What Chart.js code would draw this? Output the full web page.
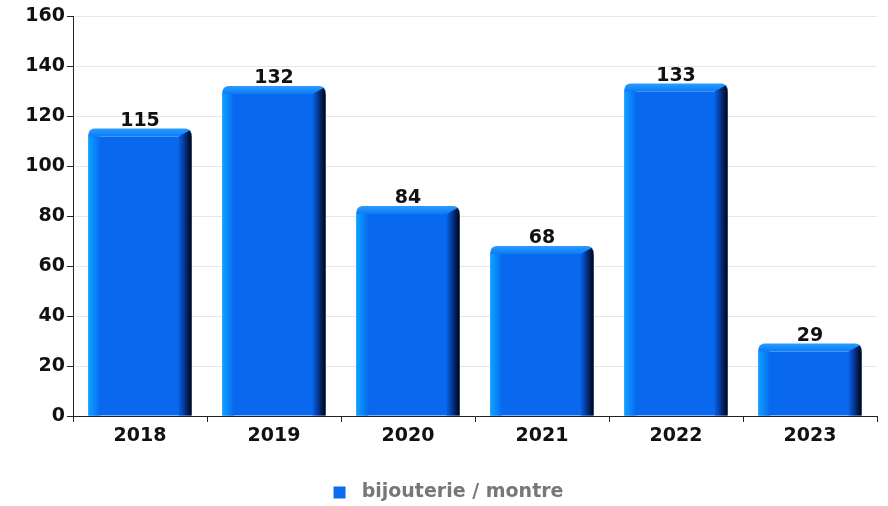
<!DOCTYPE html>
<html>
<head>
<meta charset="utf-8">
<script src="https://cdn.jsdelivr.net/npm/chart.js@4"></script>
<style>
  html, body { margin: 0; padding: 0; background: #fff; }
  #wrap { width: 888px; height: 506px; }
</style>
</head>
<body>
<div id="wrap"><canvas id="c" width="888" height="506"></canvas></div>
<script>
// bijouterie / montre par année
const years = ['2018', '2019', '2020', '2021', '2022', '2023'];
const counts = [115, 132, 84, 68, 133, 29];
const yTicks = [0, 20, 40, 60, 80, 100, 120, 140, 160];

const FONT = '"DejaVu Sans", sans-serif';
const SIZE = 19;

// dessine les barres en faux 3D à partir des éléments du graphique
const bar3d = {
  id: 'bar3d',
  afterDatasetsDraw(chart) {
    const ctx = chart.ctx;
    const meta = chart.getDatasetMeta(0);
    ctx.save();
    meta.data.forEach((bar, i) => {
      const { x, y, base, width } = bar.getProps(['x', 'y', 'base', 'width'], true);
      const x0 = x - width / 2, x1 = x + width / 2;
      const top = y, bev = 8, lw = 12, rw = 13, r = 6;

      // face principale
      ctx.fillStyle = '#0868ee';
      ctx.fillRect(x0, top + bev, width, base - top - bev);

      // côté gauche clair
      const gl = ctx.createLinearGradient(x0, 0, x0 + lw, 0);
      gl.addColorStop(0, '#0ca2ff');
      gl.addColorStop(0.5, '#0a86f8');
      gl.addColorStop(1, '#0868ee');
      ctx.fillStyle = gl;
      ctx.beginPath();
      ctx.moveTo(x0, top + r);
      ctx.lineTo(x0 + lw, top + bev);
      ctx.lineTo(x0 + lw, base);
      ctx.lineTo(x0, base);
      ctx.closePath();
      ctx.fill();

      // chapeau supérieur arrondi
      const gt = ctx.createLinearGradient(0, top, 0, top + bev);
      gt.addColorStop(0, '#2a9cff');
      gt.addColorStop(1, '#0b7af6');
      ctx.fillStyle = gt;
      ctx.beginPath();
      ctx.moveTo(x0, top + bev);
      ctx.lineTo(x0, top + r);
      ctx.arcTo(x0, top, x0 + r, top, r);
      ctx.lineTo(x1 - r, top);
      ctx.arcTo(x1, top, x1, top + r, r);
      ctx.lineTo(x1 - rw, top + bev);
      ctx.lineTo(x0 + lw, top + bev);
      ctx.closePath();
      ctx.fill();

      // côté droit sombre
      const gr = ctx.createLinearGradient(x1 - rw, 0, x1, 0);
      gr.addColorStop(0, '#0862e4');
      gr.addColorStop(0.4, '#053a9c');
      gr.addColorStop(0.75, '#021a48');
      gr.addColorStop(1, '#000610');
      ctx.fillStyle = gr;
      ctx.beginPath();
      ctx.moveTo(x1 - rw, top + bev);
      ctx.lineTo(x1 - 2, top + 2);
      ctx.lineTo(x1, top + r);
      ctx.lineTo(x1, base);
      ctx.lineTo(x1 - rw, base);
      ctx.closePath();
      ctx.fill();

      // valeur au-dessus
      ctx.fillStyle = '#111';
      ctx.font = 'bold ' + SIZE + 'px ' + FONT;
      ctx.textAlign = 'center';
      ctx.textBaseline = 'alphabetic';
      ctx.fillText(String(counts[i]), x, top - 3);
    });
    ctx.restore();
  }
};

// décale un peu la légende (droite / bas) comme dans l'original
const legendShift = {
  id: 'legendShift',
  afterLayout(chart) {
    const lg = chart.legend;
    lg.left += 10; lg.right += 10;
    lg.top += 8; lg.bottom += 8;
  }
};

new Chart(document.getElementById('c'), {
  type: 'bar',
  data: {
    labels: years,
    datasets: [{
      label: 'bijouterie / montre',
      data: counts,
      backgroundColor: 'rgba(0,0,0,0)',
      borderWidth: 0,
      categoryPercentage: 1,
      barPercentage: 0.77,
    }],
  },
  options: {
    responsive: false,
    animation: false,
    devicePixelRatio: 1,
    layout: { padding: { top: 16, right: 11, left: 0, bottom: 2 } },
    plugins: {
      legend: {
        position: 'bottom',
        labels: {
          boxWidth: 12,
          boxHeight: 12,
          padding: 10,
          color: '#777',
          font: { family: FONT, size: SIZE, weight: 'bold' },
          generateLabels: (chart) => [{
            text: ' ' + chart.data.datasets[0].label,
            fillStyle: '#0a6cf0',
            strokeStyle: '#0a6cf0',
            fontColor: '#777',
            lineWidth: 0,
            datasetIndex: 0,
          }],
        },
      },
      tooltip: { enabled: false },
    },
    scales: {
      x: {
        grid: {
          drawOnChartArea: false,
          drawTicks: true,
          tickLength: 6,
          tickColor: '#222',
        },
        border: { color: '#222', width: 1 },
        ticks: {
          color: '#111',
          padding: 3,
          font: { family: FONT, size: SIZE, weight: 'bold' },
        },
        afterFit: (s) => { s.height = 49; },
      },
      y: {
        min: 0,
        max: 160,
        afterBuildTicks: (s) => { s.ticks = yTicks.map((v) => ({ value: v })); },
        grid: {
          color: '#e6e6e6',
          tickLength: 6,
          tickColor: '#222',
        },
        border: { color: '#222', width: 1 },
        ticks: {
          color: '#111',
          padding: 2,
          font: { family: FONT, size: SIZE, weight: 'bold' },
        },
        afterFit: (s) => { s.width = 73; },
      },
    },
  },
  plugins: [bar3d, legendShift],
});
</script>
</body>
</html>
